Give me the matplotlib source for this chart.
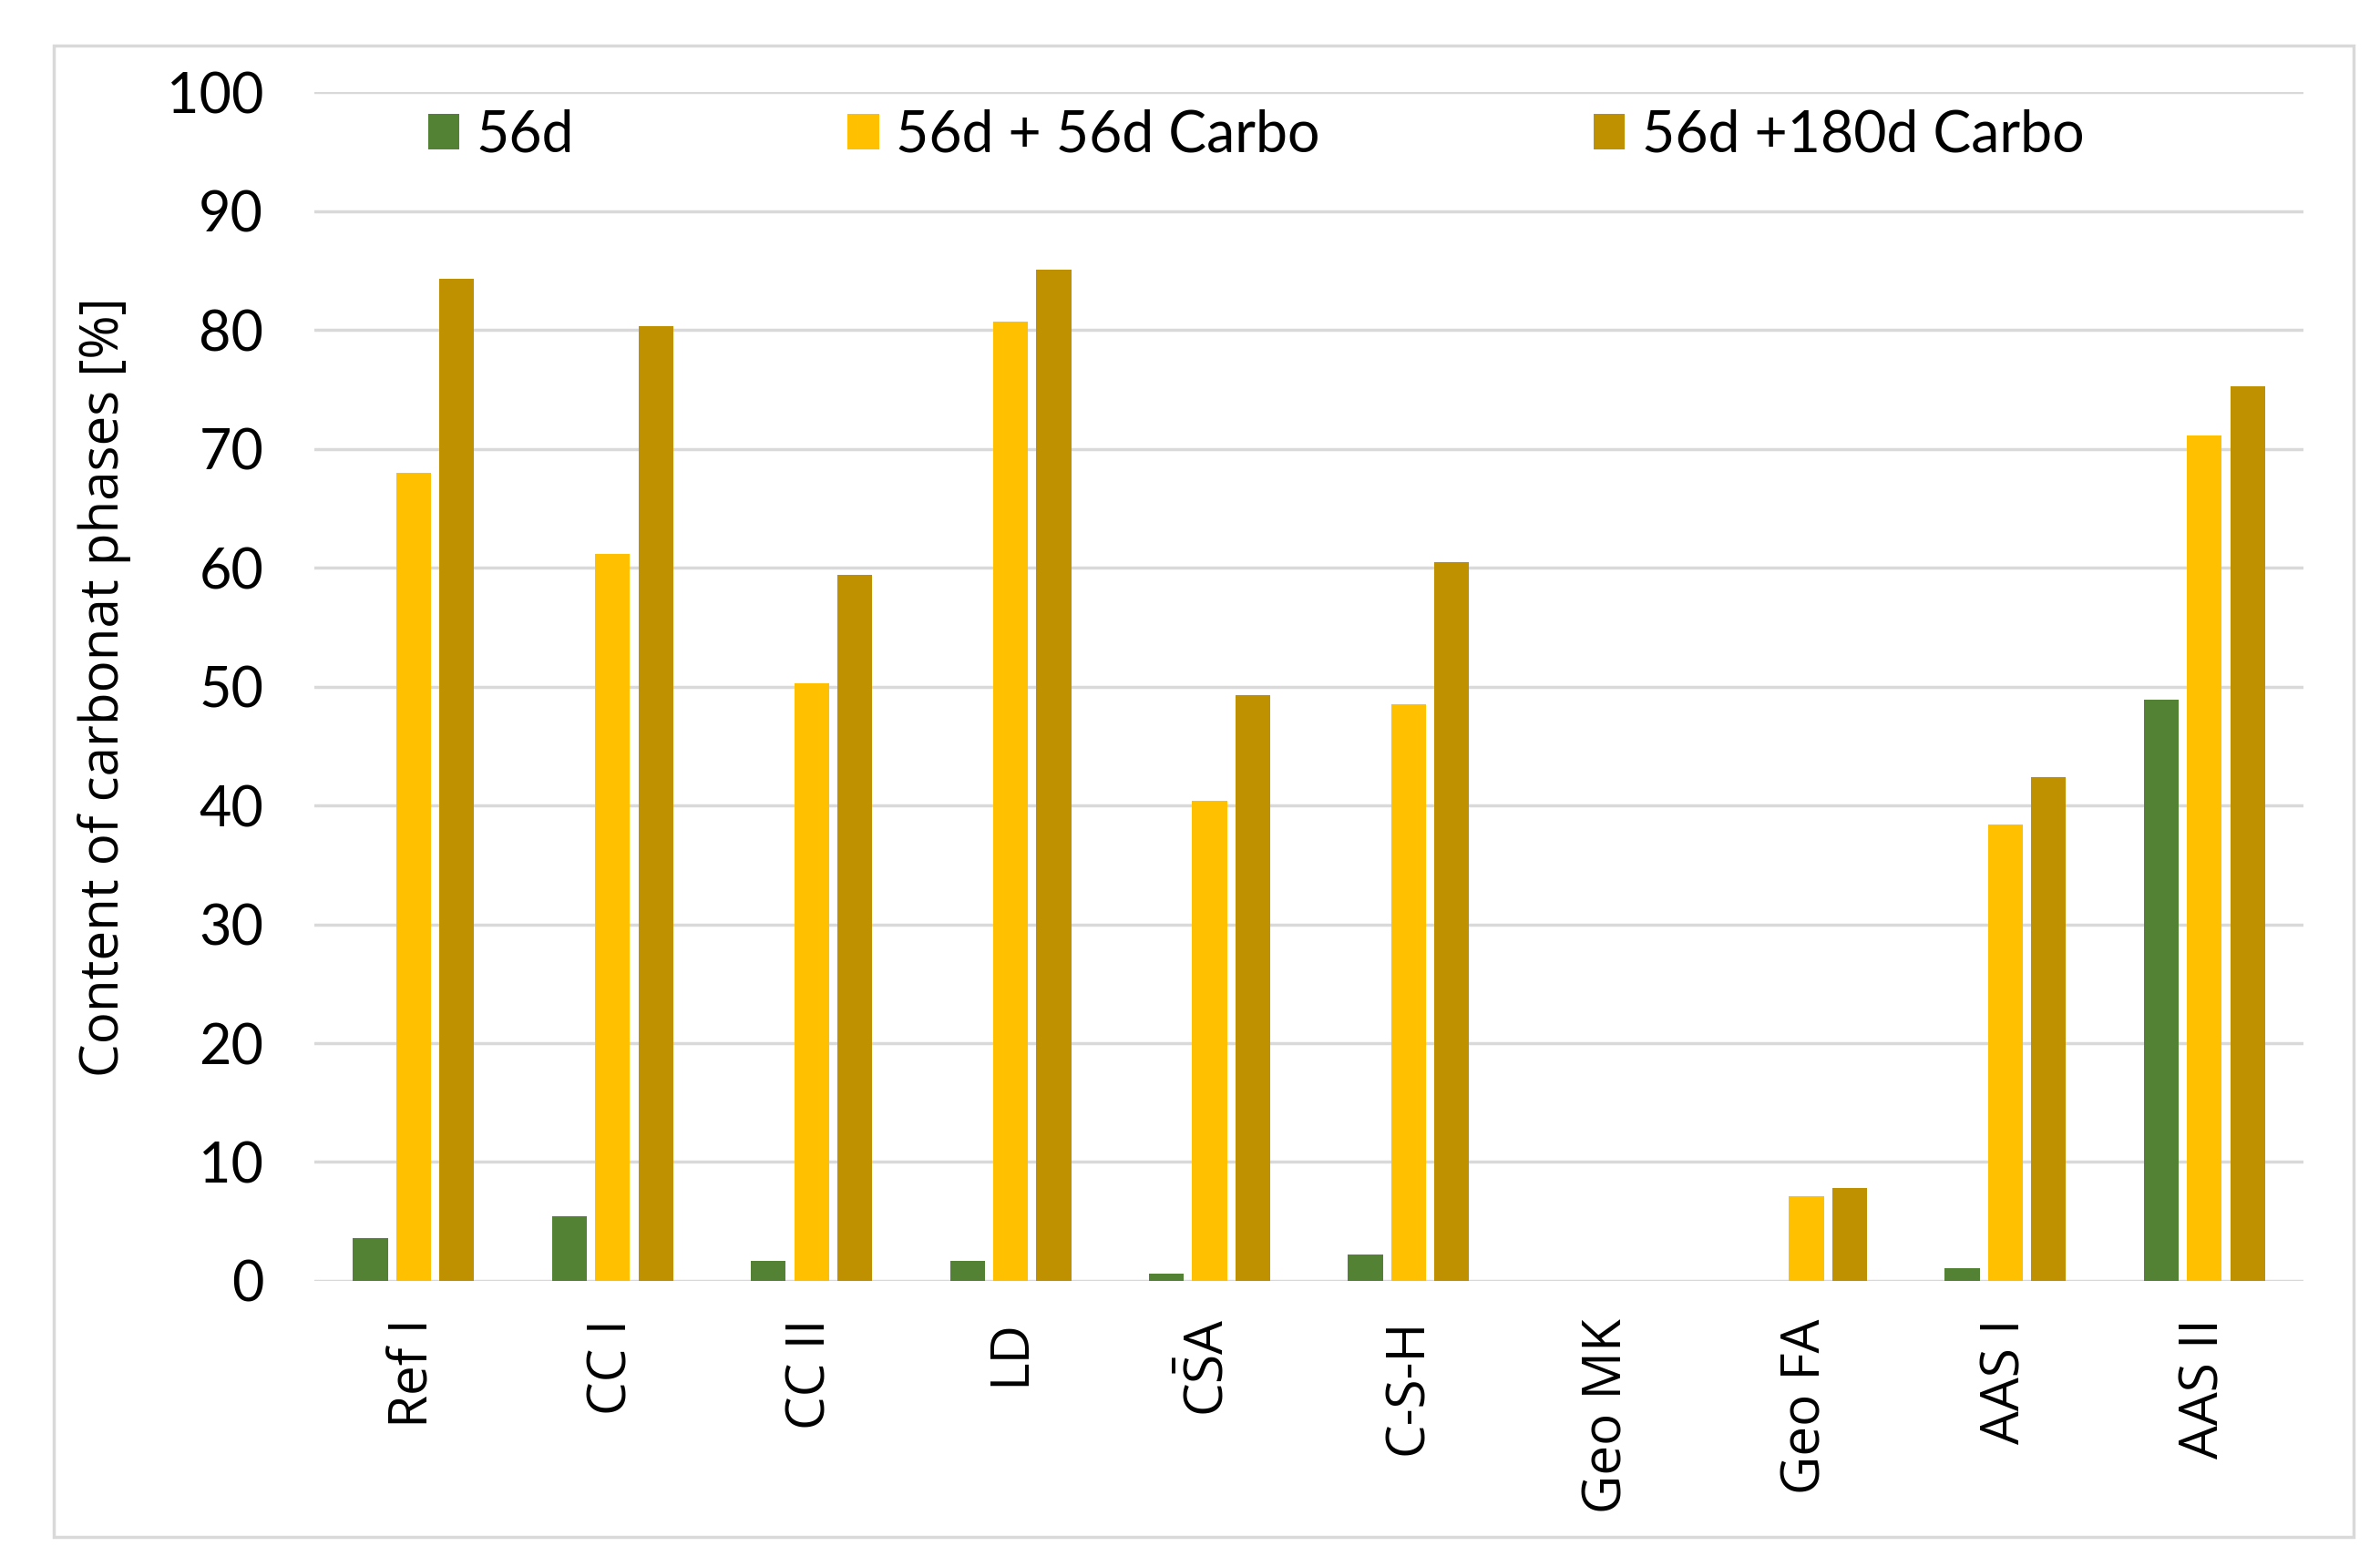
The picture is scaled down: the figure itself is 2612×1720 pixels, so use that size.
import numpy as np
import matplotlib.pyplot as plt
from matplotlib.patches import Rectangle

categories = ['Ref I', 'CC I', 'CC II', 'LD', r'C$\bar{\mathrm{S}}$A', 'C-S-H',
              'Geo MK', 'Geo FA', 'AAS I', 'AAS II']
d56 = [3.6, 5.4, 1.7, 1.7, 0.6, 2.2, 0, 0, 1.1, 48.9]
d56_c56 = [68.0, 61.2, 50.3, 80.7, 40.4, 48.5, 0, 7.1, 38.4, 71.1]
d56_c180 = [84.3, 80.3, 59.4, 85.1, 49.3, 60.5, 0, 7.8, 42.4, 75.3]
series_names = ['56d', '56d + 56d Carbo', '56d +180d Carbo']
colors = ['#548235', '#FFC000', '#BF9000']

plt.rcParams['font.family'] = ['Open Sans', 'DejaVu Sans']
plt.rcParams['mathtext.fontset'] = 'custom'
plt.rcParams['mathtext.rm'] = 'Open Sans'

fig = plt.figure(figsize=(26.12, 17.2), dpi=100)
ax = fig.add_axes([0.132, 0.1826, 0.836, 0.7584])

x = np.arange(len(categories))
w = 0.175
off = 0.217
for i, vals in enumerate([d56, d56_c56, d56_c180]):
    ax.bar(x + (i - 1) * off, vals, w, color=colors[i], label=series_names[i], zorder=3)

ax.set_xlim(-0.5, len(categories) - 0.5)
ax.set_ylim(0, 100)
ax.set_yticks(np.arange(0, 101, 10))
ax.yaxis.grid(True, color='#d9d9d9', linewidth=2.5, zorder=0)
for s in ax.spines.values():
    s.set_visible(False)
ax.tick_params(axis='both', length=0)
ax.tick_params(axis='y', pad=40)
for t in ax.get_yticklabels():
    t.set_family('Lato')
    t.set_fontsize(44)
ax.set_xticks(x)
ax.set_xticklabels(categories, rotation=90, fontsize=42)
ax.tick_params(axis='x', pad=30)
ax.set_ylabel('Content of carbonat phases [%]', fontsize=42, labelpad=28)

leg = ax.legend(loc='upper left', bbox_to_anchor=(0.04, 1.015), ncol=3, frameon=False,
                prop={'family': 'Lato', 'size': 45}, handlelength=0.55, handleheight=0.6,
                handletextpad=0.3, columnspacing=4.8, borderaxespad=0.2)

fig.patches.append(Rectangle((59 / 2612, 1 - 1687 / 1720), (2583 - 59) / 2612,
                             (1687 - 50) / 1720, transform=fig.transFigure,
                             fill=False, edgecolor='#d9d9d9', linewidth=2.5))

fig.savefig('out.png', dpi=100)
